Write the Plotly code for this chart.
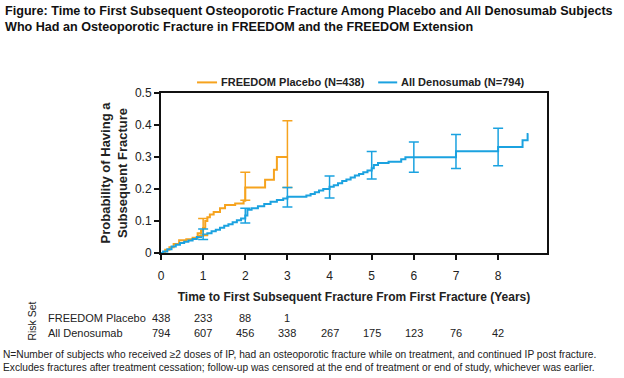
import plotly.graph_objects as go

# ---------------- data ----------------
placebo_t = [0, 0.1, 0.2, 0.3, 0.43, 0.6, 0.75, 0.87, 0.95, 1.0, 1.05, 1.1, 1.16, 1.25, 1.4, 1.52, 1.76, 1.96, 2.0, 2.47, 2.68, 2.75, 3.0]
placebo_p = [0, 0.01, 0.018, 0.028, 0.04, 0.043, 0.048, 0.062, 0.07, 0.078, 0.1, 0.112, 0.12, 0.128, 0.14, 0.15, 0.155, 0.163, 0.205, 0.229, 0.26, 0.30, 0.30]

deno_t = [0, 0.05, 0.15, 0.25, 0.35, 0.45, 0.55, 0.65, 0.75, 0.85, 0.95, 1.0, 1.1, 1.2, 1.3, 1.4, 1.5, 1.6, 1.7, 1.8, 1.9, 2.0,
          2.05, 2.15, 2.3, 2.45, 2.6, 2.75, 2.9, 3.0, 3.45, 3.55, 3.65, 3.75, 3.85, 4.0, 4.1, 4.2, 4.3, 4.4, 4.5, 4.6, 4.7, 4.8,
          4.9, 5.0, 5.05, 5.15, 5.4, 5.7, 5.8, 7.0, 8.0, 8.58, 8.7, 8.72]
deno_p = [0, 0.005, 0.012, 0.02, 0.026, 0.031, 0.035, 0.039, 0.044, 0.05, 0.055, 0.058, 0.062, 0.068, 0.073, 0.079, 0.085, 0.09,
          0.096, 0.102, 0.108, 0.117, 0.135, 0.14, 0.146, 0.153, 0.16, 0.166, 0.17, 0.176, 0.18, 0.184, 0.19, 0.195, 0.2, 0.207,
          0.212, 0.218, 0.225, 0.23, 0.236, 0.242, 0.247, 0.252, 0.258, 0.265, 0.275, 0.281, 0.285, 0.293, 0.299, 0.318, 0.331,
          0.352, 0.372, 0.372]

placebo_ci_t = [1, 2, 3]
placebo_ci_p = [0.078, 0.205, 0.30]
placebo_ci_lo = [0.055, 0.165, 0.205]
placebo_ci_hi = [0.108, 0.252, 0.413]

deno_ci_t = [1, 2, 3, 4, 5, 6, 7, 8]
deno_ci_p = [0.058, 0.117, 0.176, 0.207, 0.272, 0.299, 0.318, 0.331]
deno_ci_lo = [0.042, 0.094, 0.144, 0.172, 0.231, 0.252, 0.264, 0.273]
deno_ci_hi = [0.075, 0.140, 0.205, 0.241, 0.317, 0.347, 0.370, 0.390]

x_ticks = [0, 1, 2, 3, 4, 5, 6, 7, 8]
y_ticks = [0, 0.1, 0.2, 0.3, 0.4, 0.5]
y_tick_labels = ["0", "0.1", "0.2", "0.3", "0.4", "0.5"]

risk_years = [0, 1, 2, 3, 4, 5, 6, 7, 8]
risk_placebo = ["438", "233", "88", "1"]
risk_deno = ["794", "607", "456", "338", "267", "175", "123", "76", "42"]

ORANGE = "#F6A31E"
BLUE = "#1BA2E0"

# ---------------- layout geometry (pixels) ----------------
W, H = 624, 378
L, R, T, B = 161, 546.7, 93.3, 253.3


def px(xp):
    return (xp - L) / (R - L)


def py(yp):
    return (B - yp) / (B - T)


FONT = "Liberation Sans, Arial, sans-serif"
TXT = "#222"

fig = go.Figure()

fig.add_trace(go.Scatter(x=placebo_t, y=placebo_p, mode="lines", line=dict(color=ORANGE, width=2, shape="hv"),
                         name="FREEDOM Placebo (N=438)", showlegend=False))
fig.add_trace(go.Scatter(x=deno_t, y=deno_p, mode="lines", line=dict(color=BLUE, width=2, shape="hv"),
                         name="All Denosumab (N=794)", showlegend=False))

fig.add_trace(go.Scatter(
    x=placebo_ci_t, y=placebo_ci_p, mode="markers", marker=dict(size=1, color=ORANGE), showlegend=False,
    error_y=dict(type="data", symmetric=False,
                 array=[h - p for h, p in zip(placebo_ci_hi, placebo_ci_p)],
                 arrayminus=[p - l for l, p in zip(placebo_ci_lo, placebo_ci_p)],
                 color=ORANGE, thickness=1.5, width=5)))
fig.add_trace(go.Scatter(
    x=deno_ci_t, y=deno_ci_p, mode="markers", marker=dict(size=1, color=BLUE), showlegend=False,
    error_y=dict(type="data", symmetric=False,
                 array=[h - p for h, p in zip(deno_ci_hi, deno_ci_p)],
                 arrayminus=[p - l for l, p in zip(deno_ci_lo, deno_ci_p)],
                 color=BLUE, thickness=1.5, width=5)))

annotations = []
shapes = []

# title
annotations.append(dict(
    text="<b>Figure: Time to First Subsequent Osteoporotic Fracture Among Placebo and All Denosumab Subjects<br>"
         "Who Had an Osteoporotic Fracture in FREEDOM and the FREEDOM Extension</b>",
    xref="paper", yref="paper", x=px(3), y=py(2), xanchor="left", yanchor="top", align="left", showarrow=False,
    font=dict(size=12.6, color="#111", family=FONT)))

# legend (manual)
leg_y = py(82.7)
shapes.append(dict(type="line", xref="paper", yref="paper", x0=px(197), x1=px(217), y0=leg_y, y1=leg_y,
                   line=dict(color=ORANGE, width=2)))
shapes.append(dict(type="line", xref="paper", yref="paper", x0=px(378), x1=px(397), y0=leg_y, y1=leg_y,
                   line=dict(color=BLUE, width=2)))
annotations.append(dict(text="<b>FREEDOM Placebo (N=438)</b>", xref="paper", yref="paper", x=px(219), y=leg_y,
                        xanchor="left", yanchor="middle", showarrow=False, font=dict(size=11, color=TXT, family=FONT)))
annotations.append(dict(text="<b>All Denosumab (N=794)</b>", xref="paper", yref="paper", x=px(399), y=leg_y,
                        xanchor="left", yanchor="middle", showarrow=False, font=dict(size=11, color=TXT, family=FONT)))

# risk table
row1, row2 = py(318), py(333)
annotations.append(dict(text="Risk Set", textangle=-90, xref="paper", yref="paper", x=px(32), y=py(321),
                        xanchor="center", yanchor="middle", showarrow=False, font=dict(size=10.5, color=TXT, family=FONT)))
annotations.append(dict(text="FREEDOM Placebo", xref="paper", yref="paper", x=px(46), y=row1,
                        xanchor="left", yanchor="middle", showarrow=False, font=dict(size=11, color=TXT, family=FONT)))
annotations.append(dict(text="All Denosumab", xref="paper", yref="paper", x=px(46), y=row2,
                        xanchor="left", yanchor="middle", showarrow=False, font=dict(size=11, color=TXT, family=FONT)))
for yr, v in zip(risk_years, risk_placebo):
    annotations.append(dict(text=v, xref="x", yref="paper", x=yr, y=row1, xanchor="center", yanchor="middle",
                            showarrow=False, font=dict(size=11, color=TXT, family=FONT)))
for yr, v in zip(risk_years, risk_deno):
    annotations.append(dict(text=v, xref="x", yref="paper", x=yr, y=row2, xanchor="center", yanchor="middle",
                            showarrow=False, font=dict(size=11, color=TXT, family=FONT)))

# footnote
annotations.append(dict(
    text="N=Number of subjects who received \u22652 doses of IP, had an osteoporotic fracture while on treatment, and continued IP post fracture.<br>"
         "Excludes fractures after treatment cessation; follow-up was censored at the end of treatment or end of study, whichever was earlier.",
    xref="paper", yref="paper", x=px(1), y=py(361.5), xanchor="left", yanchor="middle", align="left", showarrow=False,
    font=dict(size=10.2, color=TXT, family=FONT)))

fig.update_layout(
    width=W, height=H,
    margin=dict(l=L, r=W - R, t=T, b=H - B, pad=0),
    paper_bgcolor="white", plot_bgcolor="white",
    showlegend=False,
    xaxis=dict(range=[0, 9.16], tickvals=x_ticks, ticks="outside", ticklen=5, tickwidth=1.5, tickcolor="#111",
               ticklabelstandoff=6,
               showline=True, linecolor="#111", linewidth=2, mirror=True, showgrid=False, zeroline=False,
               tickfont=dict(size=12, color=TXT, family=FONT),
               title=dict(text="<b>Time to First Subsequent Fracture From First Fracture (Years)</b>", standoff=10,
                          font=dict(size=12, color=TXT, family=FONT))),
    yaxis=dict(range=[0, 0.5], tickvals=y_ticks, ticktext=y_tick_labels, ticks="outside", ticklen=5, tickwidth=1.5,
               tickcolor="#111", showline=True, linecolor="#111", linewidth=2, mirror=True, showgrid=False,
               zeroline=False, tickfont=dict(size=12, color=TXT, family=FONT),
               title=dict(text="<b>Probability of Having a<br>Subsequent Fracture</b>", standoff=4,
                          font=dict(size=13, color=TXT, family=FONT))),
    annotations=annotations,
    shapes=shapes,
)

fig.write_html("out.html", config={"displayModeBar": False},
               post_script="document.body.style.margin='0';document.body.style.padding='0';")
